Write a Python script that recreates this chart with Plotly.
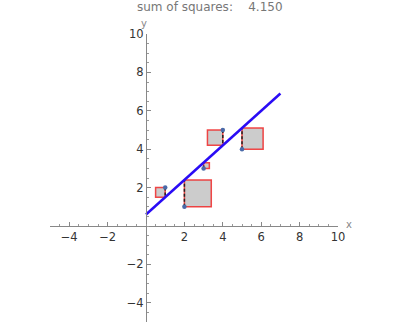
import plotly.graph_objects as go

# data
xs = [1, 2, 3, 4, 5]
ys = [2, 1, 3, 5, 4]
slope = 0.9
intercept = 0.6
line_x = [0, 7]
tick_vals = [-4, -2, 2, 4, 6, 8, 10]
tick_text = ["−4", "−2", "2", "4", "6", "8", "10"]
title_text = "sum of squares:\u00a0\u00a0\u00a0\u00a04.150"

fig = go.Figure()

# squares
for x, y in zip(xs, ys):
    yl = slope * x + intercept
    r = yl - y
    s = abs(r)
    # point above line -> square to the left; below -> to the right
    d = -1 if r < 0 else 1
    x2 = x + d * s
    fig.add_trace(go.Scatter(
        x=[x, x2, x2, x, x], y=[y, y, yl, yl, y],
        mode="lines", fill="toself", fillcolor="#cccccc",
        line=dict(color="rgba(240,40,40,0.85)", width=1.5),
        hoverinfo="skip", showlegend=False))

# dashed residual lines
for x, y in zip(xs, ys):
    yl = slope * x + intercept
    fig.add_trace(go.Scatter(
        x=[x, x], y=[y, yl], mode="lines",
        line=dict(color="#222222", width=1.5, dash="3px,2px"),
        hoverinfo="skip", showlegend=False))

# fitted line
fig.add_trace(go.Scatter(
    x=line_x, y=[slope * v + intercept for v in line_x], mode="lines",
    line=dict(color="#2a0cf5", width=2.5), showlegend=False))

# points
fig.add_trace(go.Scatter(
    x=xs, y=ys, mode="markers",
    marker=dict(color="#4a6aa8", size=4.5), showlegend=False))

axis_common = dict(
    range=[-5, 10], showgrid=False, zeroline=False,
    showline=True, linecolor="#888888", linewidth=1,
    ticks="inside", ticklen=4, tickwidth=1, tickcolor="#888888",
    tickvals=tick_vals, ticktext=tick_text,
    tickfont=dict(family="DejaVu Sans", size=11.5, color="#333333"),
    minor=dict(dtick=0.5, tick0=0, ticks="inside", ticklen=2, tickcolor="#999999"),
    anchor="free", position=1/3, automargin=False, fixedrange=True,
)
fig.update_xaxes(**axis_common)
fig.update_yaxes(**axis_common)

fig.update_layout(
    width=400, height=325,
    margin=dict(l=50, r=62, t=34, b=3),
    paper_bgcolor="white", plot_bgcolor="white",
    annotations=[
        dict(text=title_text, xref="paper", yref="paper", x=0.556, y=1.094,
             xanchor="center", yanchor="middle", showarrow=False,
             font=dict(family="DejaVu Sans", size=12, color="#777777")),
        dict(text="x", xref="paper", yref="paper", x=1.022, y=0.338,
             xanchor="left", yanchor="middle", showarrow=False,
             font=dict(family="DejaVu Sans", size=10, color="#888888")),
        dict(text="y", xref="paper", yref="paper", x=0.326, y=1.036,
             xanchor="center", yanchor="middle", showarrow=False,
             font=dict(family="DejaVu Sans", size=10, color="#888888")),
    ],
)

fig.write_html("out.html")
